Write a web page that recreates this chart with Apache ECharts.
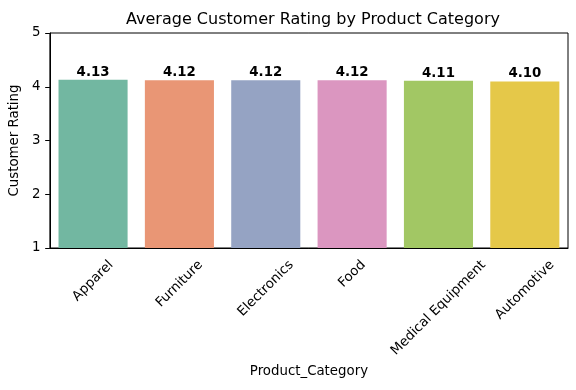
<!DOCTYPE html>
<html>
<head>
<meta charset="utf-8">
<script src="https://cdn.jsdelivr.net/npm/echarts@6/dist/echarts.min.js"></script>
<style>html,body{margin:0;padding:0;background:#fff}#c{width:576px;height:390px}</style>
</head>
<body>
<div id="c"></div>
<script>
var categories = ["Apparel", "Furniture", "Electronics", "Food", "Medical Equipment", "Automotive"];
var ratings = [4.13, 4.12, 4.12, 4.12, 4.11, 4.10];
var barColors = ["#72b7a1", "#e99675", "#95a3c3", "#db96c0", "#a2c764", "#e5c849"];
var yTicks = [1, 2, 3, 4, 5];

var FONT = "DejaVu Sans";
var FS = 13.33;
var measureCtx = document.createElement("canvas").getContext("2d");
measureCtx.font = FS + "px '" + FONT + "'";

var chart = echarts.init(document.getElementById("c"), null, {renderer: "canvas"});
var option = {
  animation: false,
  backgroundColor: "#fff",
  title: {
    text: "Average Customer Rating by Product Category",
    left: 308, top: 7, textAlign: "center",
    textStyle: {fontFamily: FONT, fontSize: 16, fontWeight: "normal", color: "#000"}
  },
  grid: {left: 48, right: 8, top: 33, height: 215, show: true, borderColor: "#000", borderWidth: 1, backgroundColor: "transparent"},
  xAxis: {
    type: "category",
    data: categories,
    name: "Product_Category",
    nameLocation: "middle",
    nameGap: 117,
    nameTextStyle: {fontFamily: FONT, fontSize: FS, color: "#000"},
    axisLine: {lineStyle: {color: "#000", width: 1}},
    axisTick: {alignWithLabel: true, length: 4.7, lineStyle: {color: "#000"}},
    axisLabel: {show: false}
  },
  yAxis: {
    type: "value",
    min: yTicks[0], max: yTicks[yTicks.length - 1], interval: 1,
    name: "Customer Rating",
    nameLocation: "middle",
    nameRotate: 90,
    nameGap: 20,
    nameTextStyle: {fontFamily: FONT, fontSize: FS, color: "#000"},
    axisLine: {show: true, lineStyle: {color: "#000", width: 1}},
    axisTick: {show: true, length: 4.7, lineStyle: {color: "#000"}},
    axisLabel: {fontFamily: FONT, fontSize: FS, color: "#000", margin: 9.5},
    splitLine: {show: false}
  },
  series: [
    {
      type: "bar",
      data: ratings.map(function (v, i) { return {value: v, itemStyle: {color: barColors[i]}}; }),
      barCategoryGap: "20%",
      label: {
        show: true, position: "top", distance: 1,
        fontFamily: FONT, fontSize: FS, fontWeight: "bold", color: "#000",
        formatter: function (p) { return p.value.toFixed(2); }
      }
    },
    {
      type: "custom",
      silent: true,
      clip: false,
      data: categories.map(function (c) { return [c, yTicks[0]]; }),
      renderItem: function (params, api) {
        var idx = params.dataIndex;
        var txt = categories[idx];
        var pt = api.coord([api.value(0), api.value(1)]);
        var w = measureCtx.measureText(txt).width;
        var h = FS * 1.17;
        var boxH = (w + h) * Math.SQRT1_2;
        return {
          type: "text",
          x: pt[0],
          y: pt[1] + 9.3 + boxH / 2,
          rotation: Math.PI / 4,
          style: {
            text: txt, fill: "#000",
            font: FS + "px '" + FONT + "'",
            textAlign: "center", textVerticalAlign: "middle"
          }
        };
      }
    }
  ]
};
chart.setOption(option);
</script>
</body>
</html>
